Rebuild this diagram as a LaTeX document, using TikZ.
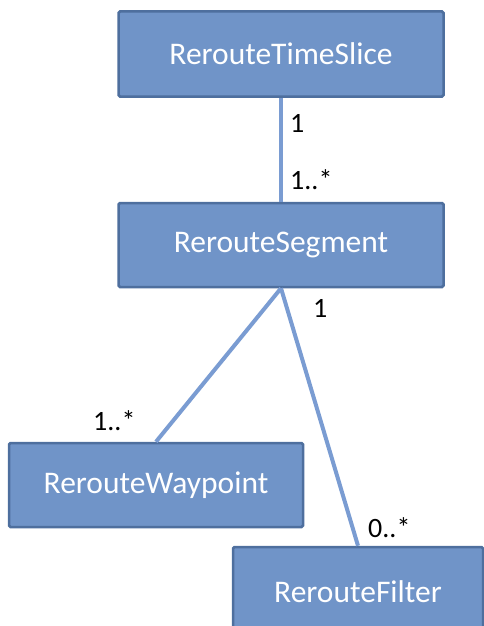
\documentclass[tikz,border=0pt]{standalone}
\usepackage{fontspec}
\setmainfont{Carlito}
\definecolor{boxfill}{HTML}{7094C8}
\definecolor{boxline}{HTML}{4E6F9E}
\definecolor{conn}{HTML}{7A9CD2}
\tikzset{
  cls/.style={draw=boxline, line width=2.5pt, fill=boxfill, rounded corners=1.5pt,
    text=white, font=\fontsize{31.5}{36}\selectfont, inner sep=0pt},
  conline/.style={draw=conn, line width=4pt},
  mult/.style={anchor=base west, inner sep=0pt, font=\fontsize{28}{32}\selectfont, text=black}
}
\begin{document}
\begin{tikzpicture}[x=1pt,y=-1pt]
\useasboundingbox (0,0) rectangle (484,626);
\begin{scope}
\clip (0,0) rectangle (484,626);
\node[cls, minimum width=325pt, minimum height=85pt] (ts) at (281,54) {RerouteTimeSlice};
\node[cls, minimum width=325pt, minimum height=84pt] (seg) at (281,245) {RerouteSegment};
\node[cls, minimum width=294pt, minimum height=84pt] (wp) at (156,485) {RerouteWaypoint};
\node[cls, minimum width=250pt, minimum height=90pt] (flt) at (358,592) {RerouteFilter};
\end{scope}
\draw[conline] (ts.south) -- (seg.north);
\draw[conline] (seg.south) -- (wp.north);
\draw[conline] (seg.south) -- (flt.north);
\node[mult] (m1) at (290,132) {1};
\node[mult] (m2) at (290,189) {1..*};
\node[mult] (m3) at (313,317) {1};
\node[mult] (m4) at (93,430) {1..*};
\node[mult] (m5) at (368,537) {0..*};
\end{tikzpicture}
\end{document}
